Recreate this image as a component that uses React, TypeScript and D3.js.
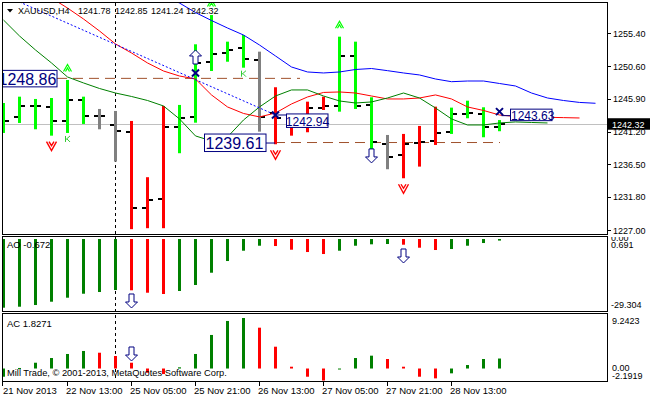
import React from 'react';
import * as d3 from 'd3';

const FONT = "'Liberation Sans', Arial, sans-serif";

// ---- Price bars (XAUUSD H4) ----
const opens = [1242.50, 1243.30, 1244.88, 1244.74, 1242.72, 1245.75, 1243.48, 1242.14, 1241.14, 1230.18, 1231.48, 1241.81, 1243.25, 1251.26, 1252.48, 1253.20, 1251.51, 1243.87, 1242.39, 1241.90, 1244.55, 1244.88, 1252.13, 1245.03, 1239.41, 1237.86, 1239.60, 1239.88, 1241.09, 1243.69, 1243.69, 1241.78];
const highs = [1245.31, 1246.22, 1245.89, 1246.03, 1248.63, 1246.22, 1244.45, 1244.16, 1242.72, 1234.61, 1244.88, 1245.03, 1253.77, 1257.99, 1254.15, 1255.11, 1252.71, 1247.58, 1243.34, 1245.50, 1246.22, 1254.87, 1254.15, 1246.13, 1240.70, 1240.85, 1242.00, 1244.78, 1244.64, 1245.64, 1244.69, 1242.85];
const lows = [1240.99, 1242.43, 1241.52, 1240.60, 1240.99, 1242.29, 1241.52, 1236.86, 1227.12, 1227.26, 1227.26, 1238.07, 1242.47, 1249.92, 1251.26, 1250.40, 1241.18, 1239.36, 1240.60, 1241.09, 1244.30, 1244.06, 1244.45, 1236.86, 1235.76, 1234.46, 1236.14, 1239.26, 1240.85, 1243.11, 1240.37, 1241.24];
const closes = [1242.72, 1244.88, 1244.88, 1242.76, 1245.75, 1243.48, 1243.48, 1241.28, 1230.18, 1231.34, 1241.90, 1243.11, 1251.03, 1252.33, 1252.95, 1251.65, 1243.30, 1243.11, 1242.72, 1244.55, 1244.88, 1252.13, 1244.88, 1239.65, 1237.58, 1239.41, 1239.69, 1241.03, 1243.69, 1243.83, 1241.81, 1242.32];
const zones = ['g','g','g','g','g','g','n','n','r','r','r','g','g','g','g','g','n','r','r','r','r','g','g','g','n','r','r','r','g','g','g','g'];

// ---- Alligator lines ----
const jawStart = 8;
const jaw = [1263.04, 1261.88, 1260.73, 1259.72, 1258.35, 1257.20, 1256.12, 1255.11, 1253.67, 1252.09, 1250.50, 1249.78, 1249.64, 1249.78, 1250.14, 1250.28, 1249.97, 1249.64, 1249.35, 1248.77, 1248.38, 1248.48, 1248.48, 1248.12, 1247.76, 1246.75, 1246.03, 1245.67, 1245.39, 1245.27];
const teethStart = 0;
const teeth = [1263.90, 1262.75, 1261.60, 1260.44, 1259.00, 1257.42, 1255.69, 1253.82, 1252.52, 1251.08, 1249.92, 1249.20, 1248.77, 1246.47, 1244.74, 1243.80, 1243.30, 1243.87, 1245.17, 1246.18, 1246.83, 1246.90, 1246.75, 1246.32, 1245.89, 1245.89, 1246.03, 1246.47, 1245.89, 1244.74, 1244.23, 1243.58, 1243.37, 1243.30, 1243.25, 1243.20, 1243.15];
const lipsStart = 0;
const lips = [1257.27, 1254.97, 1252.95, 1251.08, 1249.06, 1248.20, 1247.40, 1246.75, 1246.25, 1245.67, 1244.88, 1243.01, 1240.56, 1239.84, 1240.41, 1242.86, 1244.74, 1246.32, 1247.19, 1247.19, 1246.32, 1245.60, 1245.31, 1245.46, 1246.03, 1246.75, 1246.03, 1244.59, 1243.01, 1242.14, 1242.14, 1242.43, 1242.58, 1242.50, 1242.43];

// ---- Oscillators ----
const aoValues = [-29.304, -28.88, -28.16, -26.75, -25.04, -23.34, -22.61, -21.76, -21.88, -22.91, -23.46, -22.18, -19.62, -14.38, -9.39, -4.99, -2.86, -2.99, -4.56, -5.55, -6.40, -4.99, -2.86, -2.26, -2.13, -2.43, -3.71, -4.69, -4.27, -2.86, -1.71, -0.672];
const acValues = [-1.50, 0.10, 1.06, 1.92, 2.66, 3.21, 2.89, 2.29, 1.06, -0.77, -1.01, 0.22, 2.66, 6.14, 8.70, 9.2423, 7.47, 3.99, 0.33, -1.50, -2.1919, -0.15, 1.92, 2.35, 1.74, 0.33, -1.50, -1.80, -0.88, 0.64, 1.74, 1.8271];

// ---- Axis labels ----
const priceTicks = [1255.40, 1250.60, 1245.90, 1241.20, 1236.50, 1231.80, 1227.00];
const timeLabels = ['21 Nov 2013', '22 Nov 13:00', '25 Nov 05:00', '25 Nov 21:00', '26 Nov 13:00', '27 Nov 05:00', '27 Nov 21:00', '28 Nov 13:00'];
const timeLabelBars = [0, 4, 8, 12, 16, 20, 24, 28];
const titleParts = ['XAUUSD,H4', '1241.78', '1242.85', '1241.24', '1242.32'];
const currentPrice = 1242.32;

// ---- Annotations ----
const fractalUpBars = [4, 13, 21];
const fractalDownBars = [3, 17, 25];
const signalKBars = [4, 15];
const crossMarks = [{ i: 12, p: 1249.64 }, { i: 17, p: 1243.58 }, { i: 31, p: 1244.06 }];
const mainUpArrows = [{ i: 12, p: 1252.95 }];
const mainDownArrows = [{ i: 23, p: 1236.67 }];
const aoDownArrows = [{ i: 8, v: -29.43 }, { i: 25, v: -10.23 }];
const acDownArrows = [{ i: 8, v: 1.376 }];
const trendFrom = { i: 1, p: 1259.87 };
const trendTo = { i: 17, p: 1243.58 };
const verticalLineBar = 7;

export default function App() {
  const x = d3.scaleLinear().domain([0, 31]).range([3.5, 499.5]);
  const y = d3.scaleLinear().domain([1227.0, 1255.4]).range([230, 33]);
  const yAO = d3.scaleLinear().domain([-29.304, 0.691]).range([307.7, 237.4]);
  const yAC = d3.scaleLinear().domain([-2.1919, 9.2423]).range([380.5, 318]);

  const LIME = '#00FF00', RED = '#FF0000', GRAY = '#808080', DKGREEN = '#008000', NAVY = '#000080', BROWN = '#A0522D', BLUE = '#0000FF';
  const zoneColor = (z: string) => (z === 'g' ? LIME : z === 'r' ? RED : GRAY);

  const mkLine = (vals: number[], start: number) =>
    d3.line<number>().x((_, k) => x(start + k)).y((v) => y(v))(vals) || '';

  const oscColor = (vals: number[], i: number) => (i === 0 || vals[i] > vals[i - 1] ? DKGREEN : RED);

  const upArrow = (cx: number, ty: number) =>
    `M${cx},${ty} L${cx + 6},${ty + 6} L${cx + 2.5},${ty + 6} L${cx + 2.5},${ty + 14} L${cx - 2.5},${ty + 14} L${cx - 2.5},${ty + 6} L${cx - 6},${ty + 6} Z`;
  const downArrow = (cx: number, by: number) =>
    `M${cx},${by} L${cx + 6},${by - 6} L${cx + 2.5},${by - 6} L${cx + 2.5},${by - 14} L${cx - 2.5},${by - 14} L${cx - 2.5},${by - 6} L${cx - 6},${by - 6} Z`;

  const yb1 = y(1248.86);
  const yb2 = y(1239.61);
  const yb3 = y(1242.94);
  const yb4 = y(1243.63);
  const FS = 9;

  return (
    <svg width={650} height={400} style={{ position: 'fixed', left: 0, top: 0, background: '#fff' }} fontFamily={FONT}>
      <defs>
        <clipPath id="cMain"><rect x={3} y={3} width={604} height={231} /></clipPath>
        <clipPath id="cAO"><rect x={3} y={237} width={604} height={74} /></clipPath>
        <clipPath id="cAC"><rect x={3} y={314} width={604} height={67} /></clipPath>
        <clipPath id="cAOlab"><rect x={607} y={237} width={43} height={74} /></clipPath>
      </defs>
      <rect x={0} y={0} width={650} height={400} fill="#fff" />

      {/* vertical dashed line */}
      <line x1={x(verticalLineBar)} x2={x(verticalLineBar)} y1={3} y2={381} stroke="#000" strokeDasharray="3,3" />

      {/* main panel */}
      <g clipPath="url(#cMain)">
        <line x1={3} x2={607} y1={Math.round(y(currentPrice)) + 0.5} y2={Math.round(y(currentPrice)) + 0.5} stroke="#C0C0C0" />
        <line x1={57} x2={300} y1={yb1} y2={yb1} stroke={BROWN} strokeDasharray="10,6" />
        <line x1={275} x2={500} y1={yb2} y2={yb2} stroke={BROWN} strokeDasharray="10,6" />
        {opens.map((o, i) => {
          const c = x(i);
          const col = zoneColor(zones[i]);
          const yo = Math.round(y(o));
          const yc = Math.round(y(closes[i]));
          return (
            <g key={i}>
              <rect x={c - 1.5} y={y(highs[i])} width={3} height={y(lows[i]) - y(highs[i])} fill={col} />
              <rect x={c - 5.5} y={yo - 1} width={4} height={2} fill="#000" />
              <rect x={c + 1.5} y={yc - 1} width={4} height={2} fill="#000" />
            </g>
          );
        })}
        <path d={mkLine(jaw, jawStart)} fill="none" stroke={BLUE} strokeWidth={1} />
        <path d={mkLine(teeth, teethStart)} fill="none" stroke={RED} strokeWidth={1} />
        <path d={mkLine(lips, lipsStart)} fill="none" stroke={DKGREEN} strokeWidth={1} />
        <line x1={x(trendFrom.i)} y1={y(trendFrom.p)} x2={x(trendTo.i)} y2={y(trendTo.p)} stroke={BLUE} strokeDasharray="2,2" />
        {fractalUpBars.map((i) => {
          const cx = x(i), cy = y(highs[i]) - 12;
          return <path key={'fu' + i} d={`M${cx - 4},${cy + 3.5} L${cx},${cy - 3.5} L${cx + 4},${cy + 3.5} M${cx - 2},${cy + 3.5} L${cx},${cy} L${cx + 2},${cy + 3.5}`} fill="none" stroke={LIME} strokeWidth={1.2} />;
        })}
        {fractalDownBars.map((i) => {
          const cx = x(i), cy = y(lows[i]) + 10;
          return <path key={'fd' + i} d={`M${cx - 5},${cy - 4} L${cx},${cy + 5} L${cx + 5},${cy - 4} M${cx - 2.5},${cy - 4} L${cx},${cy} L${cx + 2.5},${cy - 4}`} fill="none" stroke={RED} strokeWidth={1.4} />;
        })}
        {signalKBars.map((i) => {
          const cx = x(i), cy = y(lows[i]) + 6;
          return <path key={'k' + i} d={`M${cx - 2},${cy - 3} L${cx - 2},${cy + 3} M${cx - 2},${cy + 1} L${cx + 2.5},${cy - 3} M${cx - 0.5},${cy} L${cx + 2.5},${cy + 3}`} fill="none" stroke="#33CC33" strokeWidth={1} />;
        })}
        {mainUpArrows.map((a, k) => <path key={'ua' + k} d={upArrow(x(a.i), y(a.p))} fill="#fff" stroke={NAVY} />)}
        {mainDownArrows.map((a, k) => <path key={'da' + k} d={downArrow(x(a.i), y(a.p))} fill="#fff" stroke={NAVY} />)}
        {crossMarks.map((m, k) => {
          const cx = x(m.i), cy = y(m.p);
          return <path key={'x' + k} d={`M${cx - 3.5},${cy - 3.5} L${cx + 3.5},${cy + 3.5} M${cx + 3.5},${cy - 3.5} L${cx - 3.5},${cy + 3.5}`} stroke={NAVY} strokeWidth={2} />;
        })}
        <rect x={-2.5} y={yb1 - 8} width={59.5} height={16.5} fill="#fff" stroke={NAVY} />
        <text x={-1.5} y={yb1 + 6.5} fontSize={16} fill={NAVY}>1248.86</text>
        <line x1={266} x2={275} y1={yb2 + 0.5} y2={yb2 + 0.5} stroke={NAVY} />
        <rect x={204.5} y={yb2 - 8.5} width={61.5} height={17.5} fill="#fff" stroke={NAVY} />
        <text x={205.5} y={yb2 + 6.5} fontSize={16} fill={NAVY}>1239.61</text>
        <line x1={x(17) + 2} x2={286} y1={y(1243.58)} y2={y(1243.58)} stroke={NAVY} />
        <rect x={286.5} y={yb3 - 5.5} width={41.5} height={13.5} fill="#fff" stroke={NAVY} />
        <text x={285.8} y={yb3 + 6.5} fontSize={12} fill={NAVY}>1242.94</text>
        <line x1={x(31) + 2} x2={510} y1={yb4 + 1} y2={yb4 + 1} stroke={NAVY} />
        <rect x={510.5} y={yb4 - 5.5} width={41.5} height={11.5} fill="#fff" stroke={NAVY} />
        <text x={511} y={yb4 + 5.5} fontSize={12} fill={NAVY}>1243.63</text>
      </g>

      {/* AO panel */}
      <g clipPath="url(#cAO)">
        {aoValues.map((v, i) => (
          <rect key={i} x={x(i) - 1.5} y={Math.min(yAO(0), yAO(v))} width={3} height={Math.max(1.5, Math.abs(yAO(v) - yAO(0)))} fill={oscColor(aoValues, i)} />
        ))}
        {aoDownArrows.map((a, k) => <path key={k} d={downArrow(x(a.i), yAO(a.v))} fill="#fff" stroke={NAVY} />)}
      </g>
      <text x={7} y={248} fontSize={9.5} fill="#000">AO -0.672</text>

      {/* AC panel */}
      <g clipPath="url(#cAC)">
        {acValues.map((v, i) => (
          <rect key={i} x={x(i) - 1.5} y={Math.min(yAC(0), yAC(v))} width={3} height={Math.max(1, Math.abs(yAC(v) - yAC(0)))} fill={oscColor(acValues, i)} />
        ))}
        {acDownArrows.map((a, k) => <path key={k} d={downArrow(x(a.i), yAC(a.v))} fill="#fff" stroke={NAVY} />)}
        <text x={7} y={376} fontSize={9.3} fill="#000">Mill Trade, © 2001-2013, MetaQuotes Software Corp.</text>
      </g>
      <text x={7} y={327} fontSize={9.5} fill="#000">AC 1.8271</text>

      {/* frames */}
      <rect x={2.5} y={2.5} width={605} height={232} fill="none" stroke="#000" />
      <rect x={2.5} y={236.5} width={605} height={75} fill="none" stroke="#000" />
      <rect x={2.5} y={313.5} width={605} height={68} fill="none" stroke="#000" />

      {/* price axis */}
      {priceTicks.map((p) => (
        <g key={p}>
          <line x1={607} x2={611} y1={Math.round(y(p)) + 0.5} y2={Math.round(y(p)) + 0.5} stroke="#000" />
          <text x={613} y={y(p) + 3.5} fontSize={FS} fill="#000">{p.toFixed(2)}</text>
        </g>
      ))}
      <rect x={608} y={y(currentPrice) - 5.5} width={42} height={11.5} fill="#000" />
      <text x={612} y={y(currentPrice) + 4.2} fontSize={FS} fill="#fff">{currentPrice.toFixed(2)}</text>

      {/* AO scale */}
      <g clipPath="url(#cAOlab)">
        <text x={611} y={241} fontSize={FS} fill="#000">0.00</text>
      </g>
      <text x={611} y={247.5} fontSize={FS} fill="#000">0.691</text>
      <text x={611} y={307.5} fontSize={FS} fill="#000">-29.304</text>

      {/* AC scale */}
      <text x={612} y={324} fontSize={FS} fill="#000">9.2423</text>
      <text x={612} y={371} fontSize={FS} fill="#000">0.00</text>
      <text x={612} y={378.5} fontSize={FS} fill="#000">-2.1919</text>

      {/* time axis */}
      {timeLabelBars.map((b, k) => (
        <g key={b}>
          <line x1={Math.floor(x(b)) + 0.5 - (b === 0 ? 1 : 0)} x2={Math.floor(x(b)) + 0.5 - (b === 0 ? 1 : 0)} y1={381} y2={386} stroke="#000" />
          <text x={x(b) - (b === 0 ? 0.5 : 1.5)} y={393.5} fontSize={9.5} fill="#000">{timeLabels[k]}</text>
        </g>
      ))}

      {/* title */}
      <path d="M7,9 L13,9 L10,12.5 Z" fill="#000" />
      <text x={18} y={13.5} fontSize={FS} fill="#000">{titleParts[0]}</text>
      <text x={78} y={13.5} fontSize={FS} fill="#000">{titleParts[1]}</text>
      <text x={115} y={13.5} fontSize={FS} fill="#000">{titleParts[2]}</text>
      <text x={151} y={13.5} fontSize={FS} fill="#000">{titleParts[3]}</text>
      <text x={186} y={13.5} fontSize={FS} fill="#000">{titleParts[4]}</text>
    </svg>
  );
}
